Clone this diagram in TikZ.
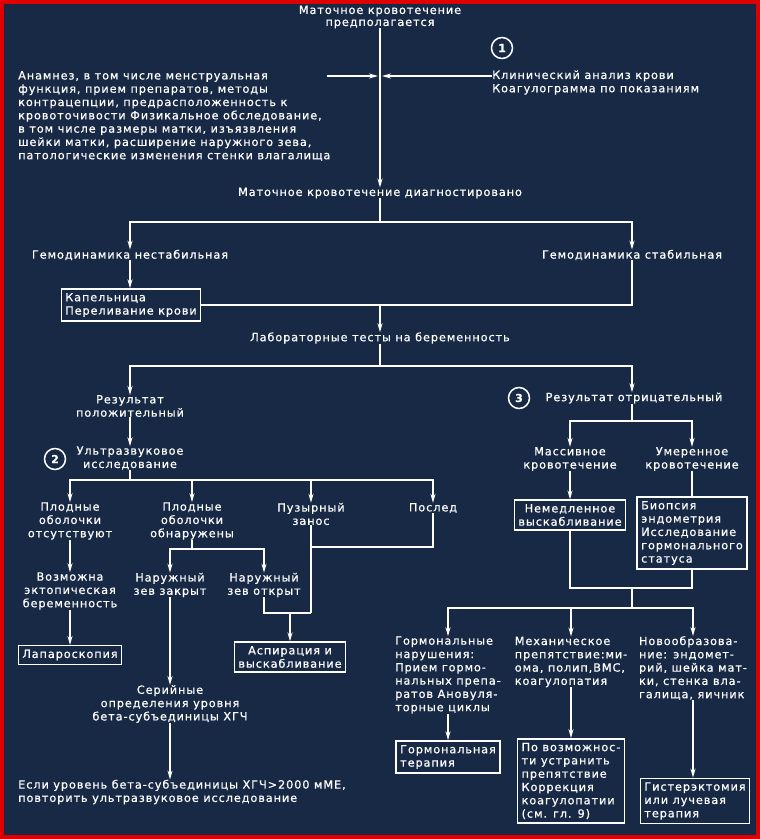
\documentclass[tikz,border=0pt]{standalone}
\usepackage{fontspec}
\setmainfont{DejaVu Sans}[LetterSpace=8, FakeBold=0.6]
\usetikzlibrary{arrows.meta}
\definecolor{bgblue}{RGB}{23,41,69}
\definecolor{frame}{RGB}{222,0,0}

\tikzset{
  txt/.style={text=white, inner sep=0pt, align=center, font=\fontsize{11.3}{13.3}\selectfont},
  ltxt/.style={txt, align=left},
  boxed/.style={ltxt, draw=white, line width=1.5pt, inner xsep=4pt, inner ysep=4pt},
  num/.style={circle, draw=white, line width=1.5pt, text=white, minimum size=21pt, inner sep=0pt, font=\bfseries\fontsize{11}{11}\selectfont},
  wire/.style={draw=white, line width=1.6pt},
  arr/.style={wire, -{Stealth[length=9pt,width=5pt]}},
}

\begin{document}
\begin{tikzpicture}[x=1pt,y=-1pt]
  \useasboundingbox (0,0) rectangle (760,839);
  \fill[bgblue] (0,0) rectangle (760,839);
  \draw[frame, line width=4pt] (2,2) rectangle (758,837);

  % top part
  \node[txt, font=\fontsize{11.3}{12}\selectfont] (susp) at (380,17) {Маточное кровотечение\\предполагается};
  \node[ltxt, anchor=west] (anam) at (18,116) {Анамнез, в том числе менструальная\\функция, прием препаратов, методы\\контрацепции, предрасположенность к\\кровоточивости Физикальное обследование,\\в том числе размеры матки, изъязвления\\шейки матки, расширение наружного зева,\\патологические изменения стенки влагалища};
  \node[ltxt, anchor=west] (blood) at (492,82.5) {Клинический анализ крови\\Коагулограмма по показаниям};
  \node[num] (n1) at (502,48) {1};
  \node[txt] (diag) at (380,193) {Маточное кровотечение диагностировано};
  \node[txt] (unstab) at (130,255) {Гемодинамика нестабильная};
  \node[txt] (stab) at (632,255) {Гемодинамика стабильная};
  \node[boxed] (drip) at (131,305) {Капельница\\Переливание крови};
  \node[txt] (preg) at (380,338) {Лабораторные тесты на беременность};

  % positive test
  \node[txt] (pos) at (130,406) {Результат\\положительный};
  \node[txt] (usg) at (130,458) {Ультразвуковое\\исследование};
  \node[num] (n2) at (55,459) {2};
  \node[txt] (nomem) at (70,521) {Плодные\\оболочки\\отсутствуют};
  \node[txt] (mem) at (192,521) {Плодные\\оболочки\\обнаружены};
  \node[txt] (mole) at (311,514) {Пузырный\\занос};
  \node[txt] (afterb) at (433,508) {Послед};
  \node[txt] (ectop) at (70,591) {Возможна\\эктопическая\\беременность};
  \node[boxed] (lapar) at (70,655) {Лапароскопия};
  \node[txt] (closed) at (170,585) {Наружный\\зев закрыт};
  \node[txt] (open) at (264,585) {Наружный\\зев открыт};
  \node[boxed, align=center] (asp) at (290,657) {Аспирация и\\выскабливание};
  \node[txt] (serial) at (170,704) {Серийные\\определения уровня\\бета-субъединицы ХГЧ};
  \node[ltxt, anchor=west] (final) at (18,792) {Если уровень бета-субъединицы ХГЧ>2000 мМЕ,\\повторить ультразвуковое исследование};

  % negative test
  \node[txt] (neg) at (634,398) {Результат отрицательный};
  \node[num] (n3) at (519,398) {3};
  \node[txt] (massive) at (570,459) {Массивное\\кровотечение};
  \node[txt] (moder) at (692,459) {Умеренное\\кровотечение};
  \node[boxed, align=center] (curet) at (570,515) {Немедленное\\выскабливание};
  \node[boxed] (biop) at (692,533) {Биопсия\\эндометрия\\Исследование\\гормонального\\статуса};
  \node[ltxt] (hormdis) at (448,675) {Гормональные\\нарушения:\\Прием гормо-\\нальных препа-\\ратов Ановуля-\\торные циклы};
  \node[ltxt] (mech) at (571,662) {Механическое\\препятствие:ми-\\ома, полип,ВМС,\\коагулопатия};
  \node[ltxt] (neo) at (693,668) {Новообразова-\\ние: эндомет-\\рий, шейка мат-\\ки, стенка вла-\\галища, яичник};
  \node[boxed] (hormth) at (448,757) {Гормональная\\терапия};
  \node[boxed] (corr) at (571,781) {По возможнос-\\ти устранить\\препятствие\\Коррекция\\коагулопатии\\(см. гл. 9)};
  \node[boxed] (hyst) at (695,801) {Гистерэктомия\\или лучевая\\терапия};

  % connectors
  \coordinate (cross) at (380,76);
  \draw[arr] (susp.south) -- (susp.south |- diag.north);
  \draw[arr, shorten >=2pt] ([xshift=-4pt]anam.east |- cross) -- (cross);
  \draw[arr, shorten >=2pt] (blood.west |- cross) -- (cross);

  \coordinate (j1) at (380,222);
  \draw[wire] (diag) -- (j1);
  \draw[arr] (j1) -| (unstab);
  \draw[arr] (j1) -| (stab);
  \draw[arr] (unstab.south) -- (unstab.south |- drip.north);
  \coordinate (j2) at (380,305);
  \draw[wire] (drip.east) -- (j2);
  \draw[wire] (stab) |- (j2);
  \draw[arr] (j2) -- (preg);

  \coordinate (j3) at (380,366);
  \draw[wire] (preg) -- (j3);
  \draw[arr] (j3) -| (pos);
  \draw[arr] (j3) -| ([xshift=-2pt]neg.north);
  \draw[arr] (pos) -- (usg);

  \coordinate (j4) at (130,480);
  \draw[wire] (usg) -- (j4);
  \draw[arr] (j4) -| (nomem);
  \draw[arr] (j4) -| (mem);
  \draw[arr] (j4) -| (mole);
  \draw[arr] (j4) -| (afterb);
  \draw[arr] (nomem) -- (ectop);
  \draw[arr] (ectop) -- (lapar);
  \coordinate (j5) at (192,549);
  \draw[wire] (mem) -- (j5);
  \draw[arr] (j5) -| (closed);
  \draw[arr] (j5) -| (open);
  \coordinate (j6) at (311,613);
  \coordinate (j7) at (311,547);
  \coordinate (j8) at (290,613);
  \draw[wire] (mole) -- (j6);
  \draw[wire] (afterb) |- (j7);
  \draw[wire] (open) |- (j6);
  \draw[arr] (j8) -- (asp);
  \draw[arr] (closed) -- (serial);
  \draw[arr] (serial.south) -- (serial.south |- final.north);

  \coordinate (j9) at (632,421);
  \draw[wire] ([xshift=-2pt]neg.south) -- (j9);
  \draw[arr] (j9) -| (massive);
  \draw[arr] (j9) -| (moder);
  \draw[arr] (massive) -- (curet);
  \draw[wire] (moder) -- (biop);
  \coordinate (j10) at (632,588);
  \coordinate (j11) at (632,608);
  \draw[wire] (curet) |- (j10);
  \draw[wire] (biop) |- (j10);
  \draw[wire] (j10) -- (j11);
  \draw[arr] (j11) -| (hormdis);
  \draw[arr] (j11) -| (mech);
  \draw[arr] (j11) -| (neo);
  \draw[arr] (hormdis) -- (hormth);
  \draw[arr] (mech) -- (corr);
  \draw[arr] (neo.south) -- (neo.south |- hyst.north);
\end{tikzpicture}
\end{document}
